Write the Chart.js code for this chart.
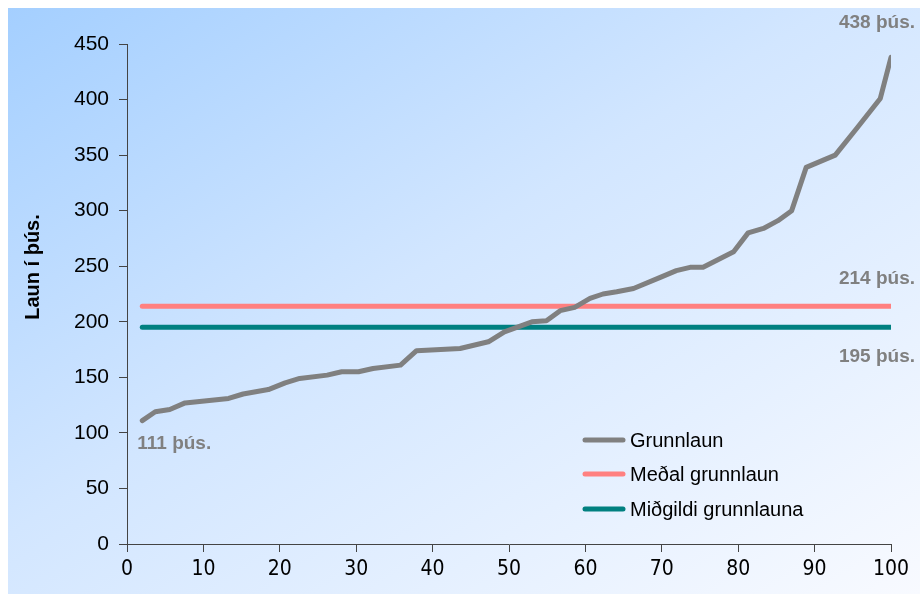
<!DOCTYPE html>
<html>
<head>
<meta charset="utf-8">
<script src="https://cdn.jsdelivr.net/npm/chart.js@4.4.1/dist/chart.umd.min.js"></script>
<style>
body { margin: 0; background: #fff; }
#wrap {
  position: absolute; left: 8px; top: 8px; width: 912px; height: 586px;
  background: linear-gradient(to bottom right, #a4cfff 0%, #d2e6ff 45%, #f8faff 100%);
}
</style>
</head>
<body>
<div id="wrap"><canvas id="chart" width="912" height="586"></canvas></div>
<script>
// percentile (x) and base salary in thousands (y)
var percentiles = [2, 3.7, 5.6, 7.6, 13.3, 15.2, 18.5, 20.7, 22.6, 26.2, 28.1, 30.3, 32.2, 35.8, 37.9,
  43.6, 47.3, 49.4, 53, 54.9, 56.7, 58.6, 60.6, 62.3, 64.1, 66.3, 69.8, 71.9, 73.7, 75.4,
  79.4, 81.3, 83.3, 85.2, 87, 88.9, 92.7, 95.5, 98.6, 100];
var grunnlaun = [111, 119, 121, 127, 131, 135, 139, 145, 149, 152, 155, 155, 158, 161, 174,
  176, 182, 191, 200, 201, 210, 213, 221, 225, 227, 230, 240, 246, 249, 249,
  263, 280, 284, 291, 300, 339, 350, 374, 401, 438];
var medalGrunnlaun = 214;
var midgildiGrunnlauna = 195;
var seriesNames = ["Grunnlaun", "Meðal grunnlaun", "Miðgildi grunnlauna"];
var seriesColors = ["#808080", "#ff8080", "#008080"];
var yTitle = "Laun í þús.";

var first = percentiles[0];
var last = percentiles[percentiles.length - 1];

function flatLine(v) {
  return [{ x: first, y: v }, { x: last, y: v }];
}

var mainPoints = percentiles.map(function (p, i) {
  return { x: p, y: grunnlaun[i] };
});

var labelPlugin = {
  id: "valueLabels",
  afterDatasetsDraw: function (chart) {
    var ctx = chart.ctx;
    var xs = chart.scales.x;
    var ys = chart.scales.y;
    var area = chart.chartArea;
    ctx.save();

    // axis title (sits a bit above the middle of the axis)
    ctx.save();
    ctx.translate(25, area.top + 223);
    ctx.rotate(-Math.PI / 2);
    ctx.font = "bold 20px 'Liberation Sans', Arial, sans-serif";
    ctx.fillStyle = "#000";
    ctx.textAlign = "center";
    ctx.textBaseline = "middle";
    ctx.fillText(yTitle, 0, 0);
    ctx.restore();

    ctx.font = "bold 19px 'Liberation Sans', Arial, sans-serif";
    ctx.fillStyle = "#808080";
    ctx.textBaseline = "middle";

    var endX = xs.getPixelForValue(last);
    ctx.textAlign = "right";
    ctx.fillText(grunnlaun[grunnlaun.length - 1] + " þús.", endX + 24, ys.getPixelForValue(grunnlaun[grunnlaun.length - 1]) - 35);
    ctx.fillText(medalGrunnlaun + " þús.", endX + 24, ys.getPixelForValue(medalGrunnlaun) - 27);
    ctx.fillText(midgildiGrunnlauna + " þús.", endX + 24, ys.getPixelForValue(midgildiGrunnlauna) + 29);

    ctx.textAlign = "left";
    ctx.fillText(grunnlaun[0] + " þús.", xs.getPixelForValue(first) - 5, ys.getPixelForValue(grunnlaun[0]) + 23);

    // legend inside the plot, lower right
    ctx.font = "20px 'Liberation Sans', Arial, sans-serif";
    ctx.fillStyle = "#000";
    ctx.lineCap = "round";
    ctx.lineWidth = 5;
    var rows = [104, 70, 35];
    for (var i = 0; i < seriesNames.length; i++) {
      var yy = area.bottom - rows[i];
      ctx.strokeStyle = seriesColors[i];
      ctx.beginPath();
      ctx.moveTo(area.right - 306, yy);
      ctx.lineTo(area.right - 268, yy);
      ctx.stroke();
      ctx.fillText(seriesNames[i], area.right - 261, yy + 1);
    }
    ctx.restore();
  }
};

var tickFontY = { family: "'Liberation Sans', Arial, sans-serif", size: 21 };
var tickFontX = { family: "'Liberation Sans Narrow', 'DejaVu Sans Condensed', Arial, sans-serif", size: 21 };

var chart = new Chart(document.getElementById("chart"), {
  type: "line",
  data: {
    datasets: [
      {
        label: seriesNames[0],
        data: mainPoints,
        borderColor: seriesColors[0],
        borderWidth: 5,
        pointRadius: 0,
        borderCapStyle: "round",
        borderJoinStyle: "round"
      },
      {
        label: seriesNames[1],
        data: flatLine(medalGrunnlaun),
        borderColor: seriesColors[1],
        borderWidth: 5,
        pointRadius: 0,
        borderCapStyle: "round"
      },
      {
        label: seriesNames[2],
        data: flatLine(midgildiGrunnlauna),
        borderColor: seriesColors[2],
        borderWidth: 5,
        pointRadius: 0,
        borderCapStyle: "round"
      }
    ]
  },
  options: {
    responsive: false,
    animation: false,
    layout: { padding: { top: 36, right: 29, left: 0, bottom: 0 } },
    plugins: {
      legend: { display: false },
      tooltip: { enabled: false }
    },
    scales: {
      x: {
        type: "linear",
        min: 0,
        max: 100,
        ticks: { stepSize: 10, color: "#000", font: tickFontX, padding: 5 },
        grid: { drawOnChartArea: false, tickLength: 8, color: "#444" },
        border: { color: "#444", width: 1 },
        afterFit: function (s) { s.height = 50; }
      },
      y: {
        min: 0,
        max: 450,
        ticks: { stepSize: 50, color: "#000", font: tickFontY, padding: 10 },
        grid: { drawOnChartArea: false, tickLength: 8, color: "#444" },
        border: { color: "#444", width: 1 },
        afterFit: function (s) { s.width = 119; }
      }
    }
  },
  plugins: [labelPlugin]
});
</script>
</body>
</html>
